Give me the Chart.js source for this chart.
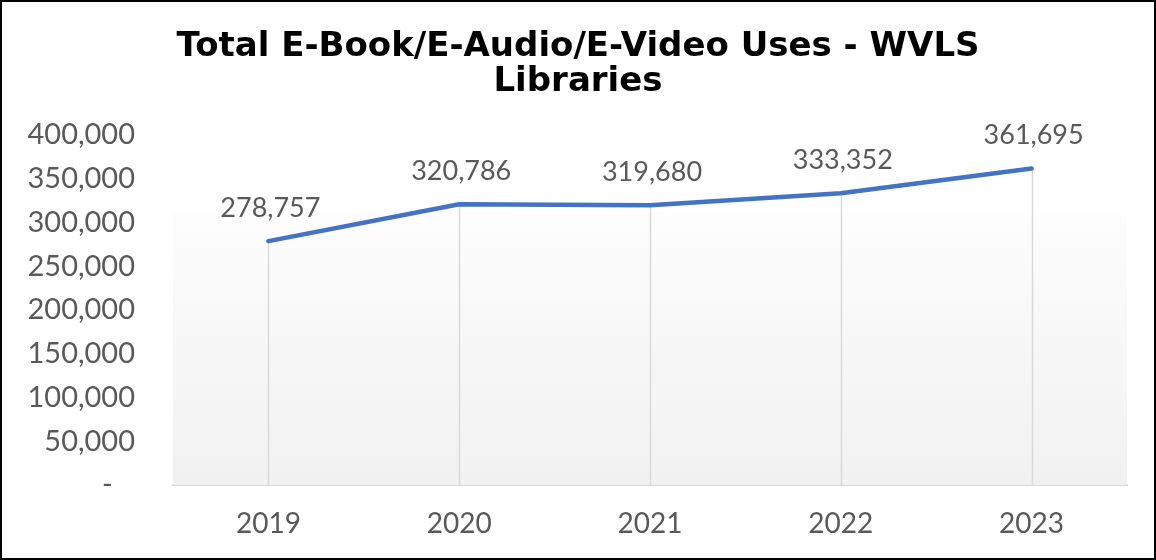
<!DOCTYPE html>
<html>
<head>
<meta charset="utf-8">
<script src="https://cdn.jsdelivr.net/npm/chart.js@4/dist/chart.umd.min.js"></script>
<style>
html,body{margin:0;padding:0;background:#fff;}
#wrap{width:1156px;height:560px;position:relative;}
</style>
</head>
<body>
<div id="wrap"><canvas id="c" width="1156" height="560"></canvas></div>
<script>
const categories = ["2019", "2020", "2021", "2022", "2023"];
const uses = [278757, 320786, 319680, 333352, 361695];
const titleLines = ["Total E-Book/E-Audio/E-Video Uses - WVLS", "Libraries"];
const yTicks = [0, 50000, 100000, 150000, 200000, 250000, 300000, 350000, 400000];

const fmt = v => v === 0 ? "-   " : v.toLocaleString("en-US");
const TXT = "#595959";

const bgPlugin = {
  id: "bg",
  beforeDatasetsDraw(chart) {
    const {ctx, chartArea: a} = chart;
    const top = a.top + (a.bottom - a.top) * 0.223;
    const g = ctx.createLinearGradient(0, top, 0, a.bottom);
    g.addColorStop(0, "#fdfdfd");
    g.addColorStop(1, "#f1f1f1");
    ctx.save();
    ctx.fillStyle = g;
    ctx.fillRect(a.left, top, a.right - a.left, a.bottom - top);
    // drop lines
    const meta = chart.getDatasetMeta(0);
    ctx.strokeStyle = "#d9d9d9";
    ctx.lineWidth = 1.5;
    meta.data.forEach(p => {
      ctx.beginPath();
      ctx.moveTo(Math.round(p.x) + 0.5, p.y);
      ctx.lineTo(Math.round(p.x) + 0.5, a.bottom);
      ctx.stroke();
    });
    ctx.restore();
  },
  afterDraw(chart) {
    const {ctx} = chart;
    const meta = chart.getDatasetMeta(0);
    ctx.save();
    ctx.fillStyle = TXT;
    ctx.font = "27px Lato";
    ctx.textAlign = "center";
    ctx.textBaseline = "middle";
    meta.data.forEach((p, i) => {
      ctx.fillText(uses[i].toLocaleString("en-US"), p.x + 2, p.y - 33);
    });
    ctx.strokeStyle = "#000";
    ctx.lineWidth = 2;
    ctx.strokeRect(1, 1, chart.width - 2, chart.height - 2);
    ctx.restore();
  }
};

new Chart(document.getElementById("c"), {
  type: "line",
  data: {
    labels: categories,
    datasets: [{
      data: uses,
      borderColor: "#4472C4",
      borderWidth: 4.5,
      pointRadius: 0,
      tension: 0,
      borderCapStyle: "round",
      borderJoinStyle: "round",
      fill: false
    }]
  },
  options: {
    responsive: false,
    animation: false,
    devicePixelRatio: 1,
    layout: {padding: {left: 0, right: 0, top: 0, bottom: 0}},
    plugins: {
      legend: {display: false},
      tooltip: {enabled: false},
      title: {
        display: true,
        text: titleLines,
        color: "#000",
        font: {family: "DejaVu Sans", weight: "bold", size: 34, lineHeight: "35px"},
        padding: {top: 30, bottom: 35}
      }
    },
    scales: {
      x: {
        offset: true,
        grid: {display: false, drawTicks: false},
        border: {display: true, color: "#d9d9d9", width: 2},
        ticks: {color: TXT, font: {family: "Lato", size: 28}, padding: 22, maxRotation: 0},
        afterFit(s) { s.height = 560 - 485; }
      },
      y: {
        min: 0,
        max: 400000,
        afterBuildTicks(s) { s.ticks = yTicks.map(v => ({value: v})); },
        grid: {display: false, drawTicks: false},
        border: {display: false},
        ticks: {color: TXT, font: {family: "Lato", size: 29}, padding: 38, callback: v => fmt(v)},
        afterFit(s) { s.width = 173; }
      },
      y2: {
        position: "right",
        display: true,
        grid: {display: false, drawTicks: false},
        border: {display: false},
        ticks: {display: false},
        afterFit(s) { s.width = 29; }
      }
    }
  },
  plugins: [bgPlugin]
});
</script>
</body>
</html>
